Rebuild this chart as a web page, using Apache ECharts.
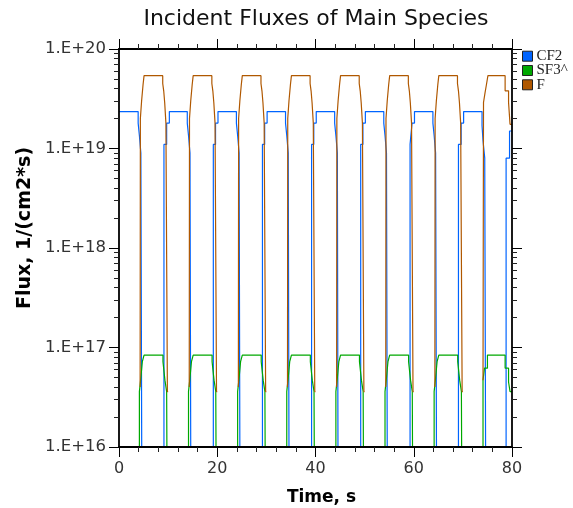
<!DOCTYPE html>
<html>
<head>
<meta charset="utf-8">
<script src="https://cdn.jsdelivr.net/npm/echarts@6/dist/echarts.min.js"></script>
<style>
  html, body { margin: 0; padding: 0; background: #fff; }
  #chart { width: 573px; height: 508px; }
</style>
</head>
<body>
<div id="chart"></div>
<script>
const seriesNames = ['CF2', 'SF3^', 'F'];
const seriesColors = ['#0064ff', '#00a800', '#b05800'];
const yTickLabels = ['1.E+16', '1.E+17', '1.E+18', '1.E+19', '1.E+20'];
const xTickLabels = ['0', '20', '40', '60', '80'];

// CF2 flux, step values (value holds from its time until the next one)
const timeCF2 = [
  0, 3.9, 4.15, 4.45, 4.8, 9.15, 9.7, 10.25,
  13.9, 14.15, 14.45, 14.75, 19.2, 19.65, 20.15,
  23.9, 24.15, 24.45, 24.75, 29.2, 29.65, 30.15,
  33.9, 34.15, 34.45, 34.75, 39.2, 39.65, 40.15,
  43.9, 44.15, 44.45, 44.7, 49.2, 49.65, 50.15,
  53.9, 54.15, 54.45, 54.75, 59.25, 59.65, 60.15,
  63.9, 64.15, 64.45, 64.8, 69.1, 69.65, 70.15,
  73.9, 74.1, 74.45, 74.8, 78.8, 79.5, 80
];
const fluxCF2 = [
  2.35e19, 1.8e19, 1.35e19, 9e18, 1e13, 1.1e19, 1.8e19, 2.35e19,
  1.8e19, 1.35e19, 9e18, 1e13, 1.1e19, 1.8e19, 2.35e19,
  1.8e19, 1.35e19, 9e18, 1e13, 1.1e19, 1.8e19, 2.35e19,
  1.8e19, 1.35e19, 9e18, 1e13, 1.1e19, 1.8e19, 2.35e19,
  1.8e19, 1.35e19, 9e18, 1e13, 1.1e19, 1.8e19, 2.35e19,
  1.8e19, 1.35e19, 9e18, 1e13, 1.1e19, 1.8e19, 2.35e19,
  1.8e19, 1.35e19, 9e18, 1e13, 1.1e19, 1.8e19, 2.35e19,
  1.7e19, 1.2e19, 8e18, 1e13, 8e18, 1.5e19, 1.5e19
];

// SF3^ flux
const timeSF3 = [
  0,
  4.15, 4.4, 4.75, 5.1, 8.95, 9.35, 9.7, 10.0,
  14.15, 14.4, 14.75, 15.1, 18.95, 19.35, 19.7, 20.0,
  24.15, 24.4, 24.75, 25.1, 28.95, 29.35, 29.7, 30.0,
  34.15, 34.4, 34.75, 35.1, 38.95, 39.35, 39.7, 40.0,
  44.15, 44.4, 44.75, 45.1, 48.95, 49.35, 49.7, 50.0,
  54.15, 54.4, 54.75, 55.1, 58.95, 59.35, 59.7, 60.0,
  64.15, 64.4, 64.75, 65.1, 68.95, 69.35, 69.7, 70.0,
  74.1, 74.4, 75.0, 78.6, 79.3, 79.6, 80
];
const fluxSF3 = [
  1e13,
  3.6e16, 4.7e16, 7.2e16, 8.4e16, 7.2e16, 4.7e16, 3.6e16, 1e13,
  3.6e16, 4.7e16, 7.2e16, 8.4e16, 7.2e16, 4.7e16, 3.6e16, 1e13,
  3.6e16, 4.7e16, 7.2e16, 8.4e16, 7.2e16, 4.7e16, 3.6e16, 1e13,
  3.6e16, 4.7e16, 7.2e16, 8.4e16, 7.2e16, 4.7e16, 3.6e16, 1e13,
  3.6e16, 4.7e16, 7.2e16, 8.4e16, 7.2e16, 4.7e16, 3.6e16, 1e13,
  3.6e16, 4.7e16, 7.2e16, 8.4e16, 7.2e16, 4.7e16, 3.6e16, 1e13,
  3.6e16, 4.7e16, 7.2e16, 8.4e16, 7.2e16, 4.7e16, 3.6e16, 1e13,
  4.7e16, 6.2e16, 8.4e16, 6.2e16, 4.5e16, 3.6e16, 3.6e16
];

// F flux (null = not positive, not drawn on the log scale)
const timeF = [
  4.3, 4.35, 4.6, 4.9, 5.1, 8.9, 9.1, 9.3, 9.55, 9.85, 10.0,
  14.3, 14.35, 14.6, 14.9, 15.1, 18.9, 19.1, 19.3, 19.55, 19.85, 20.0,
  24.3, 24.35, 24.6, 24.9, 25.1, 28.9, 29.1, 29.3, 29.55, 29.85, 30.0,
  34.3, 34.35, 34.6, 34.9, 35.1, 38.9, 39.1, 39.3, 39.55, 39.85, 40.0,
  44.3, 44.35, 44.6, 44.9, 45.1, 48.9, 49.1, 49.3, 49.55, 49.85, 50.0,
  54.3, 54.35, 54.6, 54.9, 55.1, 58.9, 59.1, 59.3, 59.55, 59.85, 60.0,
  64.3, 64.35, 64.6, 64.9, 65.1, 68.9, 69.1, 69.3, 69.55, 69.85, 70.0,
  74.1, 74.2, 74.5, 74.8, 75.1, 78.6, 79.3, 79.6, 80
];
const fluxF = [
  4e16, 2e19, 3e19, 4.4e19, 5.4e19, 4.5e19, 3.8e19, 2.9e19, 1.8e19, 3.6e16, null,
  4e16, 2e19, 3e19, 4.4e19, 5.4e19, 4.5e19, 3.8e19, 2.9e19, 1.8e19, 3.6e16, null,
  4e16, 2e19, 3e19, 4.4e19, 5.4e19, 4.5e19, 3.8e19, 2.9e19, 1.8e19, 3.6e16, null,
  4e16, 2e19, 3e19, 4.4e19, 5.4e19, 4.5e19, 3.8e19, 2.9e19, 1.8e19, 3.6e16, null,
  4e16, 2e19, 3e19, 4.4e19, 5.4e19, 4.5e19, 3.8e19, 2.9e19, 1.8e19, 3.6e16, null,
  4e16, 2e19, 3e19, 4.4e19, 5.4e19, 4.5e19, 3.8e19, 2.9e19, 1.8e19, 3.6e16, null,
  4e16, 2e19, 3e19, 4.4e19, 5.4e19, 4.5e19, 3.8e19, 2.9e19, 1.8e19, 3.6e16, null,
  4.7e16, 2.9e19, 3.6e19, 4.4e19, 5.4e19, 3.8e19, 2.9e19, 1.75e19, 1.75e19
];

const seriesTimes = [timeCF2, timeSF3, timeF];
const seriesFluxes = [fluxCF2, fluxSF3, fluxF];

// minor ticks of the log axis at 2..9 of each decade (exponent space)
const minorTickExp = [];
for (let d = 16; d < 20; d++) {
  for (let k = 2; k <= 9; k++) minorTickExp.push(d + Math.log10(k));
}

const font = 'DejaVu Sans';
const chart = echarts.init(document.getElementById('chart'), null, { renderer: 'canvas' });

const majorTick = { show: true, length: 10, lineStyle: { color: '#000', width: 1 } };
const minorTick = { show: true, splitNumber: 5, length: 5, lineStyle: { color: '#222', width: 1 } };
const frameLine = { show: true, onZero: false, lineStyle: { color: '#000', width: 1.8 } };

const xBase = {
  type: 'value', min: 0, max: 80, interval: 20, z: 10,
  axisLine: frameLine, axisTick: majorTick, minorTick: minorTick,
  splitLine: { show: false }, minorSplitLine: { show: false }
};

const yLog = {
  type: 'log', logBase: 10, min: 1e16, max: 1e20, z: 10,
  axisLine: frameLine, axisTick: majorTick,
  splitLine: { show: false }
};

const yMinor = {
  type: 'value', min: 16, max: 20, z: 10,
  axisLine: { show: false, onZero: false },
  axisLabel: { show: false },
  axisTick: { show: true, length: 5, customValues: minorTickExp, lineStyle: { color: '#222', width: 1 } },
  splitLine: { show: false }
};

// one legend per entry so the rows sit at the reference spacing
const legendTops = [48.7, 63, 77.3];

chart.setOption({
  animation: false,
  backgroundColor: '#fff',
  title: {
    text: 'Incident Fluxes of Main Species',
    left: 316, top: 8, textAlign: 'center', padding: 0,
    textStyle: { fontFamily: font, fontSize: 22, fontWeight: 'normal', color: '#111' }
  },
  legend: seriesNames.map((name, i) => ({
    orient: 'vertical', left: 522, top: legendTops[i], padding: 0,
    itemWidth: 10, itemHeight: 10, icon: 'rect', itemGap: 4,
    itemStyle: { borderColor: '#222', borderWidth: 1 },
    textStyle: { fontFamily: 'Liberation Serif', fontSize: 15, color: '#222', padding: [0, 0, 0, -1] },
    data: [name]
  })),
  grid: { left: 119, right: 61, top: 49, bottom: 61, containLabel: false, outerBoundsMode: 'none' },
  xAxis: [
    Object.assign({}, xBase, {
      position: 'bottom',
      name: 'Time, s', nameLocation: 'middle', nameGap: 42,
      nameTextStyle: { fontFamily: font, fontSize: 17, fontWeight: 'bold', color: '#000', padding: [0, 0, 0, 12] },
      axisLabel: {
        margin: 14, fontFamily: font, fontSize: 16, color: '#333',
        formatter: v => xTickLabels[Math.round(v / 20)]
      }
    }),
    Object.assign({}, xBase, { position: 'top', axisLabel: { show: false } })
  ],
  yAxis: [
    Object.assign({}, yLog, {
      position: 'left',
      name: 'Flux, 1/(cm2*s)', nameLocation: 'middle', nameGap: 82,
      nameTextStyle: { fontFamily: font, fontSize: 19, fontWeight: 'bold', color: '#000', padding: [0, 0, 0, 40] },
      axisLabel: {
        margin: 13, fontFamily: font, fontSize: 16.5, color: '#333',
        formatter: v => yTickLabels[Math.round(Math.log10(v)) - 16]
      }
    }),
    Object.assign({}, yLog, { position: 'right', axisLabel: { show: false } }),
    Object.assign({}, yMinor, { position: 'left' }),
    Object.assign({}, yMinor, { position: 'right' })
  ],
  series: seriesNames.map((name, i) => ({
    name: name,
    type: 'line',
    step: 'end',
    xAxisIndex: 0,
    yAxisIndex: 0,
    clip: true,
    showSymbol: false,
    connectNulls: false,
    color: seriesColors[i],
    lineStyle: { color: seriesColors[i], width: 1.2 },
    data: seriesTimes[i].map((t, j) => [t, seriesFluxes[i][j]])
  }))
});
</script>
</body>
</html>
